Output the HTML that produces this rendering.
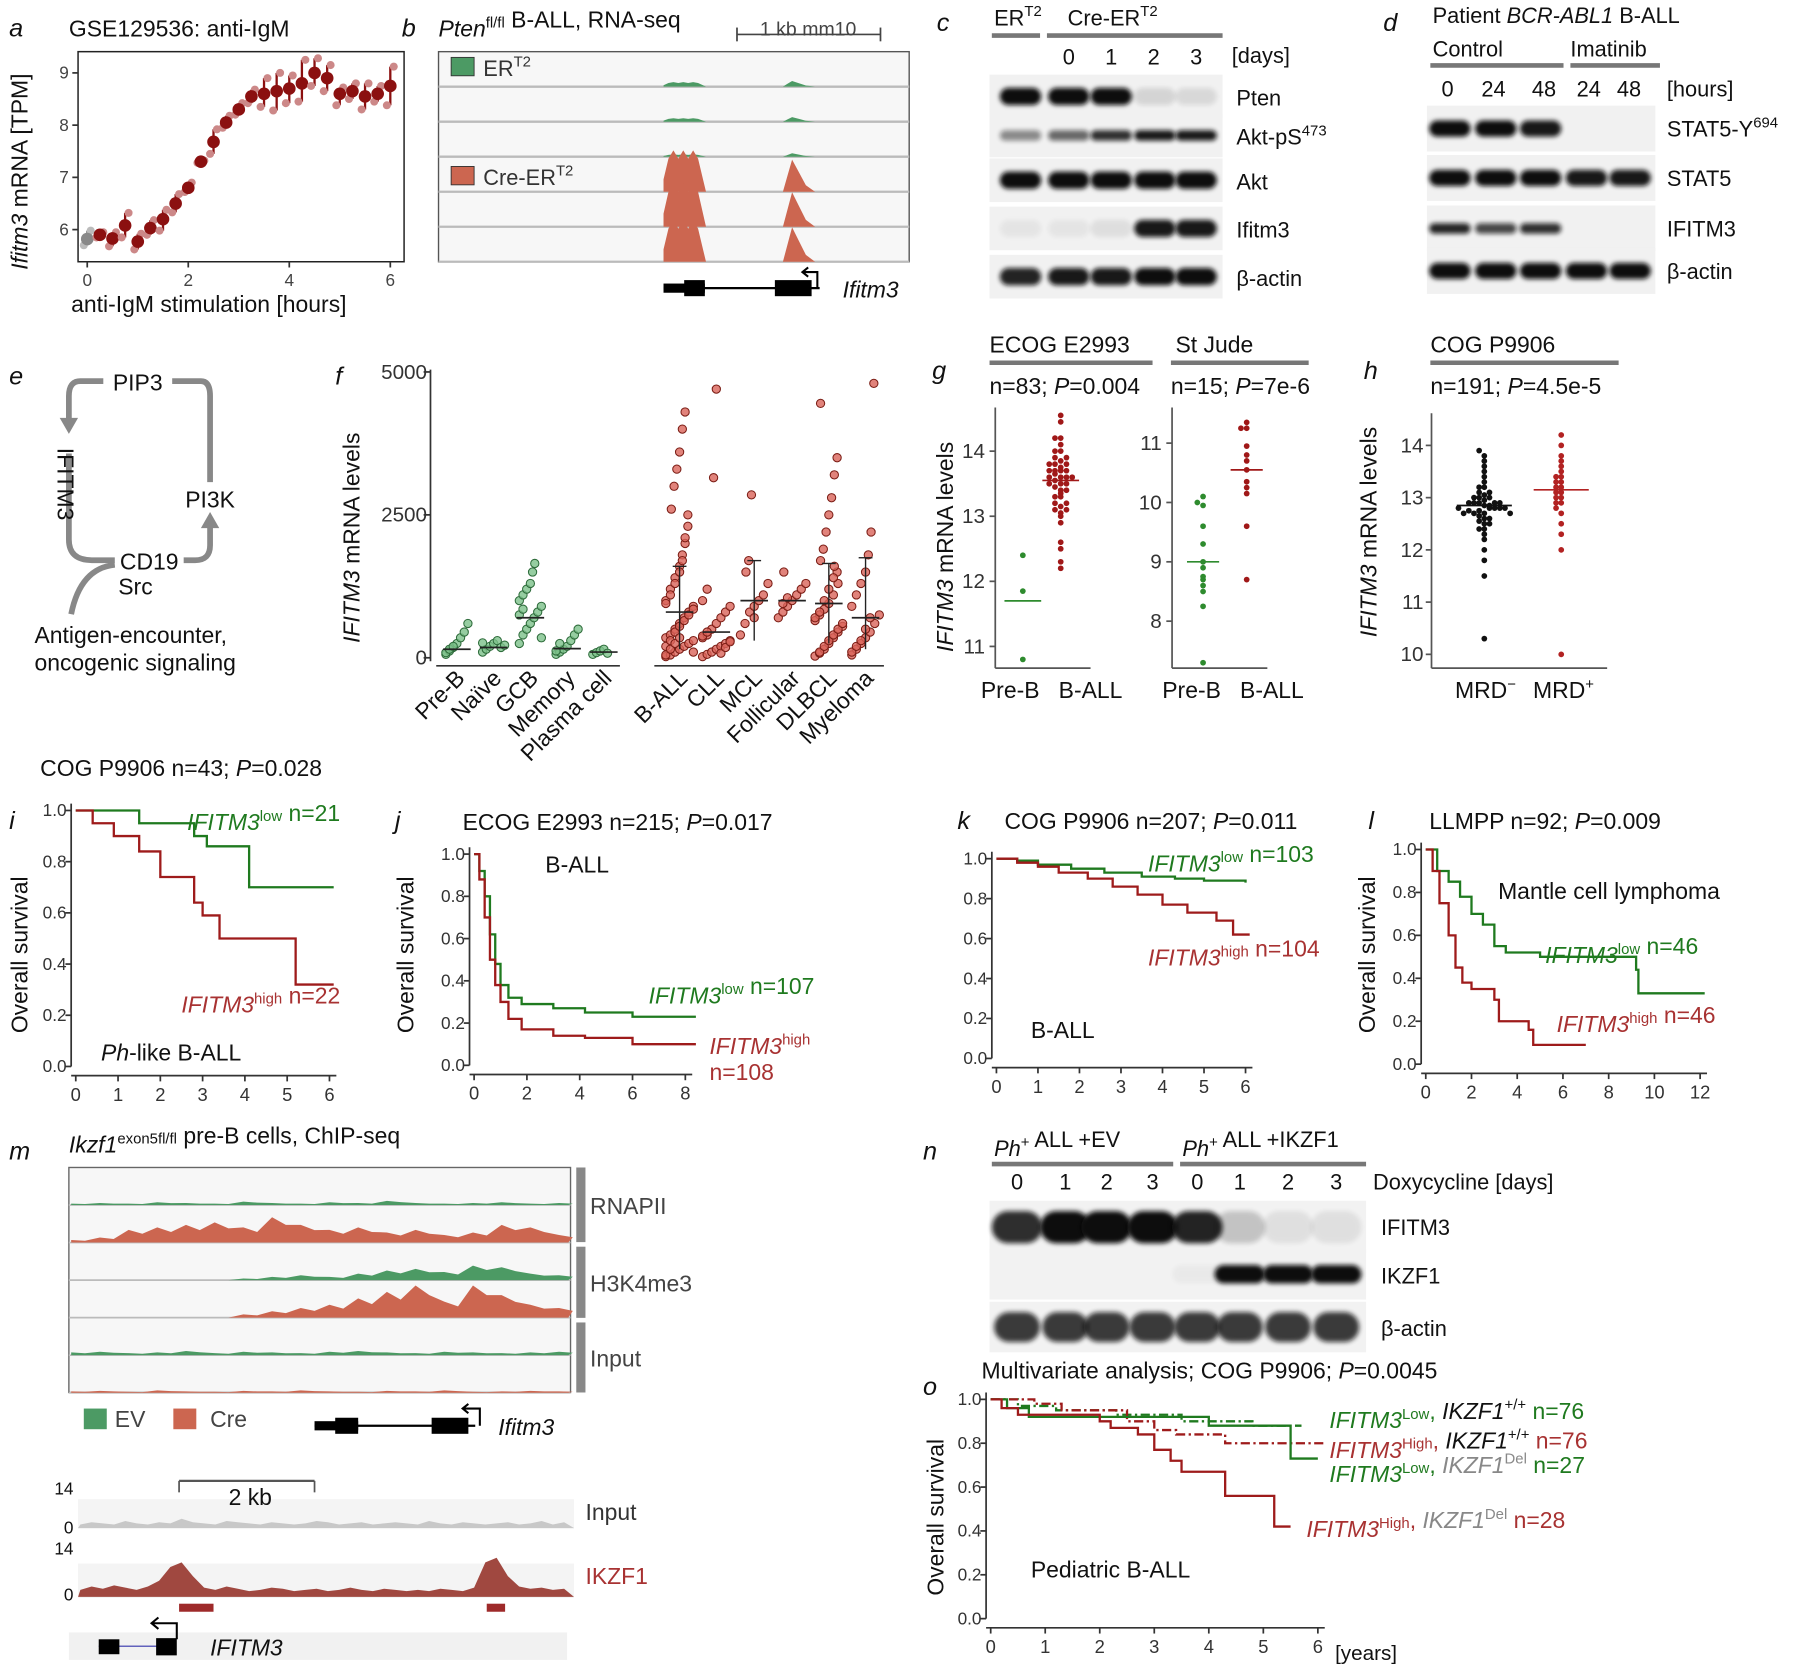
<!DOCTYPE html>
<html><head><meta charset="utf-8"><style>
html,body{margin:0;padding:0;background:#fff}
svg{display:block;font-family:"Liberation Sans",Arial,sans-serif}
</style></head><body>
<svg id="fig" width="1800" height="1668" viewBox="0 0 1568 1453" xmlns="http://www.w3.org/2000/svg">
<defs>
<filter id="blur" x="-20%" y="-50%" width="140%" height="200%"><feGaussianBlur stdDeviation="2.2"/></filter>
</defs>
</svg>
<script>
// ---------- data ----------
const aHours=[0,0.25,0.5,0.75,1,1.25,1.5,1.75,2,2.25,2.5,2.75,3,3.25,3.5,3.75,4,4.25,4.5,4.75,5,5.25,5.5,5.75,6];
const aMean=[5.82,5.9,5.83,6.08,5.77,6.03,6.2,6.5,6.8,7.3,7.68,8.05,8.3,8.55,8.6,8.65,8.7,8.8,9.0,8.9,8.6,8.65,8.55,8.6,8.75];
const aLow=[5.7,5.85,5.68,5.85,5.62,5.9,5.98,6.33,6.72,7.28,7.45,7.95,8.2,8.42,8.35,8.28,8.42,8.45,8.75,8.65,8.38,8.5,8.3,8.45,8.38];
const aHigh=[5.98,5.95,5.95,6.32,5.92,6.18,6.38,6.68,6.9,7.32,7.92,8.18,8.42,8.68,8.9,9.0,8.95,9.25,9.28,9.15,8.72,8.8,8.8,8.75,9.12];
const aTicksX=[0,2,4,6];const aTicksY=[6,7,8,9];

const fCats=["Pre-B","Naïve","GCB","Memory","Plasma cell","B-ALL","CLL","MCL","Follicular","DLBCL","Myeloma"];
const fVals=[
[60,120,180,250,350,450,600,90,150,200],
[100,150,200,250,300,180,220,260],
[250,400,500,600,700,800,900,1000,1100,1200,1300,1500,1650,350,750,850],
[60,100,150,200,300,400,500,120,250],
[60,90,120,150,80],
[20,50,100,150,200,250,300,350,400,500,600,700,800,900,1000,1200,1400,1600,1800,2000,2300,2600,3000,3300,3600,4000,4300,100,200,300,450,550,650,750,850,950,1100,1300,1500,1700,2100,2500,50,150,250,350],
[20,60,100,150,200,250,300,350,400,500,600,700,800,900,1000,1200,3150,4700,80,180,280,380,450],
[400,600,800,900,1000,1100,1300,1500,1700,2850,700],
[700,800,900,1000,1100,1200,1300,1500,950,1050],
[30,80,150,250,350,450,550,650,750,850,950,1100,1300,1500,1700,1900,2200,2500,2800,3200,3500,4450,100,200,300,400,500,600,700,800,1000,1200,1400,1600],
[50,150,250,350,450,600,750,900,1100,1300,1500,1800,2200,4800,100,200,300,500,700]];
const fMean=[150,180,700,160,100,800,450,1000,1000,950,700];
const fTicks=[0,2500,5000];

const gEcogPreB=[10.8,12.4,11.85];
const gEcogBALL=[12.2,12.3,12.5,12.6,12.9,13.0,13.05,13.1,13.15,13.2,13.3,13.35,13.4,13.45,13.5,13.55,13.6,13.65,13.7,13.75,13.8,13.85,13.9,14.0,14.1,14.2,14.45,14.55,13.3,13.5,13.6,13.7,13.8,13.9,13.4,13.6,13.7,13.8,13.5,13.6,13.7,14.0,14.2,13.2,13.1];
const gEcogMean=[11.7,13.55];
const gJudePreB=[7.3,8.25,8.5,8.6,8.7,8.75,8.9,9.0,9.3,9.6,9.95,10.0,10.1];
const gJudeBALL=[8.7,9.6,10.15,10.25,10.35,10.55,10.7,10.8,10.95,11.25,11.25,11.35];
const gJudeMean=[9.0,10.55];
const hMrdNeg=[10.3,11.5,11.8,12.0,12.2,12.3,12.4,12.5,12.55,12.6,12.65,12.7,12.75,12.8,12.85,12.9,12.95,13.0,13.05,13.1,13.2,13.3,13.4,13.5,13.6,13.7,13.8,13.9,12.7,12.8,12.85,12.9,12.75,12.8,12.9,13.0,12.6,12.7,12.8,12.9,13.0,12.5,12.8,13.1,12.4,12.7,12.9,13.2];
const hMrdPos=[10.0,12.0,12.3,12.5,12.7,12.8,12.9,13.0,13.1,13.2,13.3,13.4,13.5,13.6,13.7,13.8,14.0,14.2,13.1,13.2,13.3,12.9,13.0,13.4];
const hMean=[12.85,13.15];

const kmI_low=[[0,1],[1.5,0.95],[2.8,0.9],[3.1,0.86],[4.1,0.7],[6.1,0.7]];
const kmI_high=[[0,1],[0.4,0.95],[0.9,0.9],[1.5,0.84],[2.0,0.74],[2.8,0.64],[3.0,0.59],[3.4,0.5],[5.2,0.32],[6.1,0.32]];
const kmJ_low=[[0,1],[0.2,0.92],[0.4,0.8],[0.6,0.62],[0.8,0.48],[1.0,0.38],[1.3,0.32],[1.8,0.29],[3,0.27],[4.2,0.25],[6,0.23],[8.4,0.23]];
const kmJ_high=[[0,1],[0.2,0.88],[0.4,0.7],[0.6,0.5],[0.8,0.38],[1.0,0.3],[1.3,0.22],[1.8,0.17],[3,0.14],[4.2,0.13],[6,0.1],[8.4,0.1]];
const kmK_low=[[0,1],[0.5,0.99],[1,0.97],[1.8,0.95],[2.6,0.93],[3.5,0.91],[4.3,0.9],[5,0.89],[6,0.88]];
const kmK_high=[[0,1],[0.5,0.98],[1,0.96],[1.5,0.93],[2.2,0.9],[2.8,0.86],[3.4,0.82],[4,0.77],[4.6,0.73],[5.3,0.69],[5.7,0.62],[6.1,0.62]];
const kmL_low=[[0,1],[0.5,0.9],[1,0.85],[1.5,0.78],[2,0.7],[2.5,0.65],[3,0.55],[3.5,0.52],[4.5,0.52],[5,0.5],[9.2,0.44],[9.3,0.33],[12.2,0.33]];
const kmL_high=[[0,1],[0.3,0.9],[0.6,0.75],[1,0.6],[1.3,0.45],[1.6,0.38],[2,0.35],[3,0.3],[3.2,0.2],[4.5,0.16],[4.7,0.09],[7,0.09]];
const kmO_lowWT=[[0,1],[0.5,0.97],[1.2,0.95],[2.3,0.93],[3.5,0.9],[4.8,0.88],[5.7,0.88]];
const kmO_highWT=[[0,1],[0.8,0.98],[1.3,0.95],[2.5,0.9],[3.0,0.86],[3.4,0.84],[4.3,0.8],[6.1,0.8]];
const kmO_lowDel=[[0,1],[0.3,0.96],[0.7,0.92],[4.0,0.92],[4.0,0.88],[5.5,0.88],[5.5,0.73],[6.0,0.73]];
const kmO_highDel=[[0,1],[0.2,0.96],[0.5,0.93],[2.0,0.9],[2.2,0.87],[2.7,0.84],[3.0,0.77],[3.3,0.72],[3.5,0.67],[4.3,0.56],[5.2,0.56],[5.2,0.42],[5.5,0.42]];

// ---------- helpers ----------
const NS="http://www.w3.org/2000/svg";
const svg=document.getElementById('fig');
function el(tag,attrs,name,parent){
  const e=document.createElementNS(NS,tag);
  for(const k in attrs)e.setAttribute(k,attrs[k]);
  
  
  (parent||svg).appendChild(e);return e;
}
function txt(x,y,s,name,o){o=o||{};
  const t=el('text',{x:x,y:y,'font-size':o.fs||20,fill:o.fill||'#111','text-anchor':o.anchor||'start','font-style':o.it?'italic':'normal','font-weight':o.bold?'bold':'normal'},name,o.parent);
  if(o.rot)t.setAttribute('transform',`rotate(${o.rot} ${x} ${y})`);
  t.innerHTML=s;return t;}
function line(x1,y1,x2,y2,name,stroke,w,dash){const l=el('line',{x1,y1,x2,y2,stroke:stroke||'#333','stroke-width':w||1.5},name);if(dash)l.setAttribute('stroke-dasharray',dash);return l;}
const sup=s=>`<tspan dy="-8" font-size="13">${s}</tspan><tspan dy="8"></tspan>`;

// panel letters
[['a',8,32],['b',350,32],['c',816,27],['d',1205,27],['e',8,335],['f',292,335],['g',812,330],['h',1188,330],['i',8,722],['j',344,722],['k',834,722],['l',1192,722],['m',8,1010],['n',804,1010],['o',804,1215]].forEach(p=>txt(p[1],p[2],p[0],'panel-label-'+p[0],{fs:22,it:true}));

// ---------- panel a ----------
const ax=v=>76+v*(340-76)/6, ay=v=>200-(v-6)*45.5;
txt(60,32,'GSE129536: anti-IgM','panel-a-title');
el('rect',{x:68,y:45,width:284,height:183,fill:'none',stroke:'#222','stroke-width':1.3},'panel-a-frame');
aTicksX.forEach(t=>{line(ax(t),228,ax(t),233,'a-x-tick');txt(ax(t),249,t,'a-x-tick-label',{fs:15,anchor:'middle',fill:'#444'});});
aTicksY.forEach(t=>{line(63,ay(t),68,ay(t),'a-y-tick');txt(60,ay(t)+5,t,'a-y-tick-label',{fs:15,anchor:'end',fill:'#444'});});
txt(62,272,'anti-IgM stimulation [hours]','a-x-axis-title',{fs:20});
txt(24,235,'<tspan font-style="italic">Ifitm3</tspan> mRNA [TPM]','a-y-axis-title',{fs:20,rot:-90});
aHours.forEach((h,i)=>{const c=i===0?'#888':'#8b1010',cl=i===0?'#bbb':'#c88';
  line(ax(h),ay(aLow[i]),ax(h),ay(aHigh[i]),'a-error-bar',c,2);
  el('circle',{cx:ax(h)-3,cy:ay(aLow[i]),r:3.5,fill:cl},'a-replicate-point');
  el('circle',{cx:ax(h)+3,cy:ay(aHigh[i]),r:3.5,fill:cl},'a-replicate-point');
  el('circle',{cx:ax(h),cy:ay(aMean[i]),r:5.5,fill:c},'a-mean-point');});

// ---------- panel b ----------
txt(382,32,'<tspan font-style="italic">Pten</tspan>'+sup('fl/fl')+' B-ALL, RNA-seq','panel-b-title');
line(642,30,767,30,'b-scale-bar','#444',1.5);line(642,24,642,36,'b-scale-tick','#444');line(767,24,767,36,'b-scale-tick','#444');
txt(704,31,'1 kb mm10','b-scale-label',{fs:17,anchor:'middle',fill:'#444'});
el('rect',{x:382,y:45,width:410,height:183,fill:'#f7f7f7',stroke:'#555','stroke-width':1.2},'b-track-frame');
const bGreen=[[4,5,3],[3,4,2],[2,3,2]],bRed=[[36,28,22],[38,30,24],[36,30,22]];
for(let r=0;r<6;r++){const base=45+30.5*(r+1);
  line(382,base,792,base,'b-track-divider','#bbb',2);
  const red=r>=3,h=red?bRed[r-3]:bGreen[r],col=red?'#cc6650':'#4c9a64';
  let d=`M578,${base}`;[0,1,2,3,4,5,6,7,8].forEach(k=>{const hh=h[0]*(k%2?0.8:1)*(k===0||k===8?0.3:1);d+=` L${578+k*4.3},${base-hh}`;});d+=` L615,${base} Z`;
  el('path',{d,fill:col},'b-peak-exon2');
  el('path',{d:`M682,${base} L686,${base-h[1]*0.5} L690,${base-h[1]} L696,${base-h[1]*0.6} L702,${base-h[1]*0.2} L710,${base} Z`,fill:col},'b-peak-exon1');}
el('rect',{x:393,y:50,width:20,height:16,fill:'#4c9a64',stroke:'#333','stroke-width':0.8},'b-legend-swatch-ert2');
txt(421,66,'ER'+sup('T2'),'b-legend-ert2',{fs:19,fill:'#333'});
el('rect',{x:393,y:145,width:20,height:16,fill:'#cc6650',stroke:'#333','stroke-width':0.8},'b-legend-swatch-cre');
txt(421,161,'Cre-ER'+sup('T2'),'b-legend-cre',{fs:19,fill:'#333'});
line(578,251,714,251,'b-gene-intron','#000',2);
el('rect',{x:578,y:247,width:36,height:8,fill:'#000'},'b-gene-utr');el('rect',{x:596,y:244,width:18,height:14,fill:'#000'},'b-gene-exon');
el('rect',{x:675,y:244,width:32,height:14,fill:'#000'},'b-gene-exon');
el('path',{d:'M712,251 L712,237 L700,237 M704,233 L699,237 L704,241',fill:'none',stroke:'#000','stroke-width':1.8},'b-tss-arrow');
txt(734,259,'Ifitm3','b-gene-label',{it:true});

// ---------- blots ----------
function blot(x,y,w,h,name,lanes,bandW,bandH,bg){
  el('rect',{x,y,width:w,height:h,fill:bg||'#f1f1f1'},name+'-membrane');
  lanes.forEach(l=>{if(l[1]<=0)return;
    el('rect',{x:l[0]-bandW/2,y:y+h/2-bandH/2,width:bandW,height:bandH,rx:bandH/2,fill:'#111',opacity:l[1],filter:'url(#blur)'},name+'-band');});}
// c
txt(866,22,'ER'+sup('T2'),'c-group-ert2',{fs:19});txt(930,22,'Cre-ER'+sup('T2'),'c-group-cre',{fs:19});
line(864,31,906,31,'c-group-line','#777',4);line(912,31,1065,31,'c-group-line','#777',4);
['0','1','2','3'].forEach((s,i)=>txt(931+i*37,56,s,'c-day-label',{fs:19,anchor:'middle'}));
txt(1073,55,'[days]','c-unit',{fs:19});
const cX=[889,931,968,1006,1042];
const cRows=[['Pten',[1,1,1,0.12,0.1],84,'Pten'],['Akt',[0.45,0.6,0.85,0.95,0.95],118,'Akt-pS'+sup('473')],['Akt2',[1,1,1,1,1],157,'Akt'],['Ifitm3',[0.05,0.05,0.08,0.95,0.95],199,'Ifitm3'],['bactin',[0.9,0.95,0.95,1,1],241,'β-actin']];
cRows.forEach(r=>{blot(862,r[2]-19,203,38,'c-blot-'+r[0],cX.map((x,i)=>[x,r[1][i]]),36,r[0]==='Akt'?9:15);txt(1077,r[2]+8,r[3],'c-label-'+r[0],{fs:19});});
// d
txt(1248,20,'Patient <tspan font-style="italic">BCR-ABL1</tspan> B-ALL','d-title',{fs:19});
txt(1248,49,'Control','d-group-control',{fs:19});txt(1368,49,'Imatinib','d-group-imatinib',{fs:19});
line(1246,57,1362,57,'d-group-line','#777',4);line(1368,57,1446,57,'d-group-line','#777',4);
['0','24','48','24','48'].forEach((s,i)=>txt([1261,1301,1345,1384,1419][i],84,s,'d-time-label',{fs:19,anchor:'middle'}));
txt(1452,84,'[hours]','d-unit',{fs:19});
const dX=[1263,1303,1342,1382,1420];
[['stat5y',[1,1,0.95,0,0],112,'STAT5-Y'+sup('694')],['stat5',[1,1,1,0.95,0.95],155,'STAT5'],['ifitm3',[0.9,0.75,0.85,0,0],199,'IFITM3'],['bactin',[1,1,1,1,1],236,'β-actin']].forEach(r=>{
  blot(1243,r[2]-20,199,40,'d-blot-'+r[0],dX.map((x,i)=>[x,r[1][i]]),36,r[0]==='ifitm3'?9:14);txt(1452,r[2]+7,r[3],'d-label-'+r[0],{fs:19});});
// n
txt(866,1007,'<tspan font-style="italic">Ph</tspan>'+sup('+')+' ALL +EV','n-group-ev',{fs:19});txt(1030,1007,'<tspan font-style="italic">Ph</tspan>'+sup('+')+' ALL +IKZF1','n-group-ikzf1',{fs:19});
line(864,1014,1022,1014,'n-group-line','#777',4);line(1028,1014,1190,1014,'n-group-line','#777',4);
const nX=[886,928,964,1004,1043,1080,1122,1164];
nX.forEach((x,i)=>txt(x,1036,[0,1,2,3,0,1,2,3][i],'n-day-label',{fs:19,anchor:'middle'}));
txt(1196,1036,'Doxycycline [days]','n-unit',{fs:19});
[['ifitm3',[0.85,1,1,1,0.9,0.2,0.08,0.08],1068,'IFITM3',28,44],['ikzf1',[0,0,0,0,0.03,1,1,1],1110,'IKZF1',16,44],['bactin',[0.8,0.8,0.8,0.8,0.8,0.8,0.8,0.8],1156,'β-actin',26,40]].forEach(r=>{
  blot(862,r[2]-22,328,r[0]==='ifitm3'?46:44,'n-blot-'+r[0],nX.map((x,i)=>[x,r[1][i]]),r[5],r[4],'#f2f2f2');txt(1203,r[2]+8,r[3],'n-label-'+r[0],{fs:19});});

// ---------- panel e ----------
const eg='#888';
el('path',{d:'M90,332 L70,332 Q60,332 60,345 L60,370',fill:'none',stroke:eg,'stroke-width':5},'e-arrow-pip3-ifitm3');
el('path',{d:'M52,364 L60,378 L68,364 Z',fill:eg},'e-arrowhead');
el('path',{d:'M150,332 L175,332 Q183,332 183,345 L183,420',fill:'none',stroke:eg,'stroke-width':5},'e-line-pip3-pi3k');
el('path',{d:'M60,395 L60,470 Q60,488 80,488 L100,488',fill:'none',stroke:eg,'stroke-width':5},'e-line-ifitm3-cd19');
el('path',{d:'M160,488 L170,488 Q183,488 183,475 L183,455',fill:'none',stroke:eg,'stroke-width':5},'e-arrow-cd19-pi3k');
el('path',{d:'M175,460 L183,446 L191,460 Z',fill:eg},'e-arrowhead');
el('path',{d:'M100,492 Q70,495 62,535',fill:'none',stroke:eg,'stroke-width':5},'e-line-signal');
txt(120,340,'PIP3','e-node-pip3',{anchor:'middle'});txt(183,442,'PI3K','e-node-pi3k',{anchor:'middle'});
txt(50,390,'IFITM3','e-node-ifitm3',{rot:90});txt(130,496,'CD19','e-node-cd19',{anchor:'middle'});txt(118,518,'Src','e-node-src',{anchor:'middle'});
txt(30,560,'Antigen-encounter,','e-signal-label');txt(30,584,'oncogenic signaling','e-signal-label');

// ---------- panel f ----------
const fX=[398,430,462,494,526,592,624,657,690,722,754];
const fy=v=>573-v*(573-324)/5000;
line(375,322,375,576,'f-y-axis','#333');
fTicks.forEach(t=>{line(369,fy(t),375,fy(t),'f-y-tick');txt(372,fy(t)+6,t,'f-y-tick-label',{fs:18,anchor:'end',fill:'#333'});});
txt(313,560,'<tspan font-style="italic">IFITM3</tspan> mRNA levels','f-y-axis-title',{rot:-90});
line(380,580,540,580,'f-x-axis-normal','#333');line(570,580,770,580,'f-x-axis-tumor','#333');
fCats.forEach((c,i)=>{const tumor=i>=5;
  fVals[i].forEach((v,j)=>{const off=((j%7)-3)*(tumor?4:3.2)*(v<1500?1:0.6);
    el('circle',{cx:fX[i]+off,cy:fy(v),r:3.6,fill:tumor?'#d9645a':'#7cc18a',stroke:tumor?'#7a1c14':'#2d6b3a','stroke-width':0.9,'fill-opacity':0.8},'f-point-'+c);});
  line(fX[i]-12,fy(fMean[i]),fX[i]+12,fy(fMean[i]),'f-mean-'+c,'#222',1.5);
  txt(fX[i]+8,592,c,'f-x-label-'+c,{anchor:'end',rot:-45});});
[[657,300,1700],[722,250,1650],[754,150,1750],[592,150,1600]].forEach(e=>{
  line(e[0],fy(e[1]),e[0],fy(e[2]),'f-sd-bar','#222',1.2);line(e[0]-6,fy(e[2]),e[0]+6,fy(e[2]),'f-sd-cap','#222',1.2);});

// ---------- panel g ----------
txt(862,307,'ECOG E2993','g-title-ecog');line(862,316,1004,316,'g-title-line','#777',4);
txt(862,343,'n=83; <tspan font-style="italic">P</tspan>=0.004','g-stat-ecog');
txt(1024,307,'St Jude','g-title-stjude');line(1020,316,1140,316,'g-title-line','#777',4);
txt(1020,343,'n=15; <tspan font-style="italic">P</tspan>=7e-6','g-stat-stjude');
txt(830,568,'<tspan font-style="italic">IFITM3</tspan> mRNA levels','g-y-axis-title',{rot:-90});
function swarm(vals,cx,yf,col,name,step){const used={};vals.forEach(v=>{const k=Math.round(yf(v)/5);used[k]=(used[k]||0)+1;const n=used[k];const off=(n%2?1:-1)*Math.floor(n/2)*step;
  el('circle',{cx:cx+off,cy:yf(v),r:2.5,fill:col},name);});}
const gy1=v=>393-(v-14)*56.7, gy2=v=>386-(v-11)*51.7, hy=v=>388-(v-14)*45.5;
line(867,355,867,582,'g-ecog-y-axis','#555');[11,12,13,14].forEach(t=>{line(862,gy1(t),867,gy1(t),'g-tick','#555');txt(858,gy1(t)+6,t,'g-ecog-tick-label',{fs:18,anchor:'end',fill:'#333'});});
line(867,582,950,582,'g-ecog-x-axis','#555');
swarm(gEcogPreB,891,gy1,'#2e8b2e','g-ecog-preb-point',5);swarm(gEcogBALL,924,gy1,'#a01818','g-ecog-ball-point',5);
gEcogMean.forEach((m,i)=>line([891,924][i]-16,gy1(m),[891,924][i]+16,gy1(m),'g-ecog-mean',i?'#a01818':'#2e8b2e',1.5));
txt(880,608,'Pre-B','g-ecog-x-label',{anchor:'middle'});txt(950,608,'B-ALL','g-ecog-x-label',{anchor:'middle'});
line(1021,355,1021,582,'g-stjude-y-axis','#555');[8,9,10,11].forEach(t=>{line(1016,gy2(t),1021,gy2(t),'g-tick','#555');txt(1012,gy2(t)+6,t,'g-stjude-tick-label',{fs:18,anchor:'end',fill:'#333'});});
line(1021,582,1104,582,'g-stjude-x-axis','#555');
swarm(gJudePreB,1048,gy2,'#2e8b2e','g-stjude-preb-point',5);swarm(gJudeBALL,1086,gy2,'#a01818','g-stjude-ball-point',5);
gJudeMean.forEach((m,i)=>line([1048,1086][i]-14,gy2(m),[1048,1086][i]+14,gy2(m),'g-stjude-mean',i?'#a01818':'#2e8b2e',1.5));
txt(1038,608,'Pre-B','g-stjude-x-label',{anchor:'middle'});txt(1108,608,'B-ALL','g-stjude-x-label',{anchor:'middle'});

// ---------- panel h ----------
txt(1246,307,'COG P9906','h-title');line(1246,316,1410,316,'h-title-line','#777',4);
txt(1246,343,'n=191; <tspan font-style="italic">P</tspan>=4.5e-5','h-stat');
txt(1199,555,'<tspan font-style="italic">IFITM3</tspan> mRNA levels','h-y-axis-title',{rot:-90});
line(1247,360,1247,582,'h-y-axis','#555');[10,11,12,13,14].forEach(t=>{line(1242,hy(t),1247,hy(t),'h-tick','#555');txt(1240,hy(t)+6,t,'h-tick-label',{fs:18,anchor:'end',fill:'#333'});});
line(1247,582,1400,582,'h-x-axis','#555');
swarm(hMrdNeg,1293,hy,'#111','h-mrdneg-point',4.5);swarm(hMrdPos,1360,hy,'#b22222','h-mrdpos-point',4.5);
hMean.forEach((m,i)=>line([1293,1360][i]-24,hy(m),[1293,1360][i]+24,hy(m),'h-mean',i?'#b22222':'#111',1.5));
txt(1294,608,'MRD'+sup('−'),'h-x-label-neg',{anchor:'middle'});txt(1362,608,'MRD'+sup('+'),'h-x-label-pos',{anchor:'middle'});

// ---------- KM ----------
function km(o){const X=v=>o.x0+v*(o.x1-o.x0)/o.tmax, Y=v=>o.y0-v*(o.y0-o.y1);
  line(o.x0-4,o.y1-6,o.x0-4,o.y0,o.n+'-y-axis','#333');line(o.x0-4,o.y0+8,o.x1+6,o.y0+8,o.n+'-x-axis','#333');
  o.yt.forEach(t=>{line(o.x0-9,Y(t),o.x0-4,Y(t),o.n+'-y-tick');txt(o.x0-8,Y(t)+5,t.toFixed(1),o.n+'-y-tick-label',{fs:15,anchor:'end',fill:'#333'});});
  o.xt.forEach(t=>{line(X(t),o.y0+8,X(t),o.y0+13,o.n+'-x-tick');txt(X(t),o.y0+30,t,o.n+'-x-tick-label',{fs:16,anchor:'middle',fill:'#333'});});
  o.series.forEach(s=>{let d='M'+X(s.d[0][0])+','+Y(s.d[0][1]);for(let i=1;i<s.d.length;i++){d+=' H'+X(s.d[i][0])+' V'+Y(s.d[i][1]);}
    const p=el('path',{d,fill:'none',stroke:s.c,'stroke-width':2},o.n+'-curve-'+s.name);if(s.dash)p.setAttribute('stroke-dasharray',s.dash);});}
const G='#1f7a1f',R='#9e1b1b';
txt(35,676,'COG P9906 n=43; <tspan font-style="italic">P</tspan>=0.028','i-title');
km({n:'i',x0:66,x1:287,tmax:6,y0:929,y1:706,yt:[0,0.2,0.4,0.6,0.8,1.0],xt:[0,1,2,3,4,5,6],series:[{d:kmI_low,c:G,name:'low'},{d:kmI_high,c:R,name:'high'}]});
txt(24,900,'Overall survival','i-y-axis-title',{rot:-90});
txt(163,723,'<tspan font-style="italic">IFITM3</tspan>'+sup('low')+' n=21','i-legend-low',{fill:G});
txt(158,882,'<tspan font-style="italic">IFITM3</tspan>'+sup('high')+' n=22','i-legend-high',{fill:'#a83232'});
txt(88,924,'<tspan font-style="italic">Ph</tspan>-like B-ALL','i-annotation');
txt(403,723,'ECOG E2993 n=215; <tspan font-style="italic">P</tspan>=0.017','j-title');
km({n:'j',x0:413,x1:597,tmax:8,y0:928,y1:744,yt:[0,0.2,0.4,0.6,0.8,1.0],xt:[0,2,4,6,8],series:[{d:kmJ_low,c:G,name:'low'},{d:kmJ_high,c:R,name:'high'}]});
txt(360,900,'Overall survival','j-y-axis-title',{rot:-90});
txt(475,760,'B-ALL','j-annotation');
txt(565,874,'<tspan font-style="italic">IFITM3</tspan>'+sup('low')+' n=107','j-legend-low',{fill:G});
txt(618,918,'<tspan font-style="italic">IFITM3</tspan>'+sup('high'),'j-legend-high',{fill:'#a83232'});txt(618,941,'n=108','j-legend-high-n',{fill:'#a83232'});
txt(875,722,'COG P9906 n=207; <tspan font-style="italic">P</tspan>=0.011','k-title');
km({n:'k',x0:868,x1:1085,tmax:6,y0:922,y1:748,yt:[0,0.2,0.4,0.6,0.8,1.0],xt:[0,1,2,3,4,5,6],series:[{d:kmK_low,c:G,name:'low'},{d:kmK_high,c:R,name:'high'}]});
txt(1000,759,'<tspan font-style="italic">IFITM3</tspan>'+sup('low')+' n=103','k-legend-low',{fill:G});
txt(1000,841,'<tspan font-style="italic">IFITM3</tspan>'+sup('high')+' n=104','k-legend-high',{fill:'#a83232'});
txt(898,904,'B-ALL','k-annotation');
txt(1245,722,'LLMPP n=92; <tspan font-style="italic">P</tspan>=0.009','l-title');
km({n:'l',x0:1242,x1:1481,tmax:12,y0:927,y1:740,yt:[0,0.2,0.4,0.6,0.8,1.0],xt:[0,2,4,6,8,10,12],series:[{d:kmL_low,c:G,name:'low'},{d:kmL_high,c:R,name:'high'}]});
txt(1198,900,'Overall survival','l-y-axis-title',{rot:-90});
txt(1305,783,'Mantle cell lymphoma','l-annotation');
txt(1346,839,'<tspan font-style="italic">IFITM3</tspan>'+sup('low')+' n=46','l-legend-low',{fill:G});
txt(1356,899,'<tspan font-style="italic">IFITM3</tspan>'+sup('high')+' n=46','l-legend-high',{fill:'#a83232'});

txt(855,1201,'Multivariate analysis; COG P9906; <tspan font-style="italic">P</tspan>=0.0045','o-title');
km({n:'o',x0:863,x1:1148,tmax:6,y0:1410,y1:1219,yt:[0,0.2,0.4,0.6,0.8,1.0],xt:[0,1,2,3,4,5,6],series:[{d:kmO_lowWT,c:G,name:'low-wt',dash:'8,3,2,3'},{d:kmO_highWT,c:R,name:'high-wt',dash:'8,3,2,3'},{d:kmO_lowDel,c:G,name:'low-del'},{d:kmO_highDel,c:R,name:'high-del'}]});
txt(822,1390,'Overall survival','o-y-axis-title',{rot:-90});
txt(1163,1446,'[years]','o-x-unit',{fs:18});
txt(898,1374,'Pediatric B-ALL','o-annotation');
txt(1158,1244,'<tspan font-style="italic">IFITM3</tspan>'+sup('Low')+', <tspan font-style="italic" fill="#111">IKZF1</tspan><tspan fill="#111" dy="-8" font-size="13">+/+</tspan><tspan dy="8"> n=76</tspan>','o-legend-low-wt',{fill:G});
txt(1158,1270,'<tspan font-style="italic">IFITM3</tspan>'+sup('High')+', <tspan font-style="italic" fill="#111">IKZF1</tspan><tspan fill="#111" dy="-8" font-size="13">+/+</tspan><tspan dy="8"> n=76</tspan>','o-legend-high-wt',{fill:'#a83232'});
txt(1158,1291,'<tspan font-style="italic">IFITM3</tspan>'+sup('Low')+', <tspan font-style="italic" fill="#888">IKZF1</tspan><tspan fill="#888" dy="-8" font-size="13">Del</tspan><tspan dy="8"> n=27</tspan>','o-legend-low-del',{fill:G});
txt(1138,1339,'<tspan font-style="italic">IFITM3</tspan>'+sup('High')+', <tspan font-style="italic" fill="#888">IKZF1</tspan><tspan fill="#888" dy="-8" font-size="13">Del</tspan><tspan dy="8"> n=28</tspan>','o-legend-high-del',{fill:'#a83232'});

// ---------- panel m ----------
txt(60,1004,'<tspan font-style="italic">Ikzf1</tspan>'+sup('exon5fl/fl')+' pre-B cells, ChIP-seq','m-title');
el('rect',{x:60,y:1017,width:437,height:196,fill:'#f7f7f7',stroke:'#666','stroke-width':1.2},'m-track-frame');
const mTracks=[[6,'#4c9a64'],[22,'#cc6650'],[14,'#4c9a64'],[28,'#cc6650'],[6,'#4c9a64'],[4,'#cc6650']];
const mShape=[[0.2,0.3,0.2,0.4,0.3,0.2,0.5,0.3,0.2,0.4,0.3,0.6,0.3,0.2,0.3,0.4,0.2,0.3],[0.1,0.2,0.5,0.6,0.7,0.8,0.6,1,0.7,0.5,0.6,0.4,0.5,0.3,0.4,0.7,0.6,0.3],[0,0,0,0,0,0,0.1,0.2,0.3,0.2,0.4,0.6,0.7,0.5,0.9,0.8,0.4,0.3],[0,0,0,0,0,0,0.1,0.2,0.3,0.4,0.6,0.8,1,0.5,1,0.7,0.4,0.3],[0.4,0.5,0.3,0.4,0.6,0.3,0.5,0.4,0.3,0.5,0.6,0.4,0.3,0.5,0.4,0.3,0.4,0.5],[0.3,0.4,0.2,0.5,0.3,0.2,0.4,0.3,0.5,0.3,0.2,0.4,0.3,0.5,0.2,0.3,0.4,0.3]];
mTracks.forEach((t,r)=>{const base=1017+32.7*(r+1);
  line(60,base,497,base,'m-track-divider','#bbb',1.5);
  let d=`M62,${base}`;mShape[r].forEach((v,k)=>{d+=` L${62+k*25},${base-v*t[0]} L${74+k*25},${base-v*t[0]*0.7}`;});d+=` L495,${base} Z`;
  el('path',{d,fill:t[1]},'m-chip-signal');});
[['RNAPII',1017,1082],['H3K4me3',1086,1148],['Input',1152,1213]].forEach(g=>{el('rect',{x:502,y:g[1],width:8,height:g[2]-g[1],fill:'#888'},'m-group-bar');txt(514,(g[1]+g[2])/2+8,g[0],'m-group-label-'+g[0],{fill:'#444'});});
el('rect',{x:73,y:1227,width:20,height:18,fill:'#4c9a64'},'m-legend-swatch-ev');txt(100,1243,'EV','m-legend-ev',{fill:'#444'});
el('rect',{x:151,y:1227,width:20,height:18,fill:'#cc6650'},'m-legend-swatch-cre');txt(183,1243,'Cre','m-legend-cre',{fill:'#444'});
line(274,1242,414,1242,'m-gene-intron','#000',2);el('rect',{x:274,y:1238,width:38,height:8,fill:'#000'},'m-gene-utr');el('rect',{x:292,y:1235,width:20,height:14,fill:'#000'},'m-gene-exon');el('rect',{x:376,y:1235,width:32,height:14,fill:'#000'},'m-gene-exon');
el('path',{d:'M418,1242 L418,1227 L404,1227 M408,1223 L403,1227 L408,1231',fill:'none',stroke:'#000','stroke-width':1.8},'m-tss-arrow');
txt(434,1250,'Ifitm3','m-gene-label',{it:true});
// lower
el('rect',{x:68,y:1306,width:432,height:26,fill:'#f4f4f4'},'m-input-track-bg');
el('rect',{x:68,y:1362,width:432,height:30,fill:'#f4f4f4'},'m-ikzf1-track-bg');
line(156,1290,274,1290,'m-scale-bar','#555',2);line(156,1290,156,1300,'m-scale-tick','#555');line(274,1290,274,1300,'m-scale-tick','#555');
txt(218,1311,'2 kb','m-scale-label',{anchor:'middle'});
txt(64,1302,'14','m-input-max',{fs:15,anchor:'end'});txt(64,1336,'0','m-input-min',{fs:15,anchor:'end'});
txt(64,1354,'14','m-ikzf1-max',{fs:15,anchor:'end'});txt(64,1394,'0','m-ikzf1-min',{fs:15,anchor:'end'});
const inputH=[3,5,4,3,6,4,3,5,4,8,5,4,3,6,5,4,3,5,4,3,4,6,5,3,4,5,3,4,5,4,3,6,4,3,5,4,3,4,5,3,4,6,3,5];
let di='M68,1331';inputH.forEach((h,i)=>di+=` L${70+i*9.8},${1331-h}`);di+=' L500,1331 Z';el('path',{d:di,fill:'#c8c8c8'},'m-input-signal');
const ikzH=[6,9,7,10,8,6,9,14,26,30,18,8,6,9,7,5,6,8,7,5,6,7,5,6,8,6,5,7,6,5,6,5,7,6,5,8,30,34,18,9,7,8,6,7];
let dk='M68,1391';ikzH.forEach((h,i)=>dk+=` L${70+i*9.8},${1391-h}`);dk+=' L500,1391 Z';el('path',{d:dk,fill:'#a04840'},'m-ikzf1-signal');
el('rect',{x:156,y:1397,width:30,height:7,fill:'#9e2a2a'},'m-peak-call');el('rect',{x:424,y:1397,width:16,height:7,fill:'#9e2a2a'},'m-peak-call');
txt(510,1324,'Input','m-input-label',{fill:'#333'});txt(510,1380,'IKZF1','m-ikzf1-label',{fill:'#a83232'});
el('rect',{x:60,y:1422,width:434,height:24,fill:'#f1f1f1'},'m-gene-track-bg');
line(86,1434,152,1434,'m-gene2-intron','#33a',1);el('rect',{x:86,y:1428,width:18,height:13,fill:'#000'},'m-gene2-exon');el('rect',{x:136,y:1427,width:18,height:15,fill:'#000'},'m-gene2-exon');
el('path',{d:'M154,1428 L154,1414 L133,1414 M138,1409 L132,1414 L138,1419',fill:'none',stroke:'#000','stroke-width':1.8},'m-gene2-tss');
txt(183,1442,'IFITM3','m-gene2-label',{it:true});
</script>
</body></html>
